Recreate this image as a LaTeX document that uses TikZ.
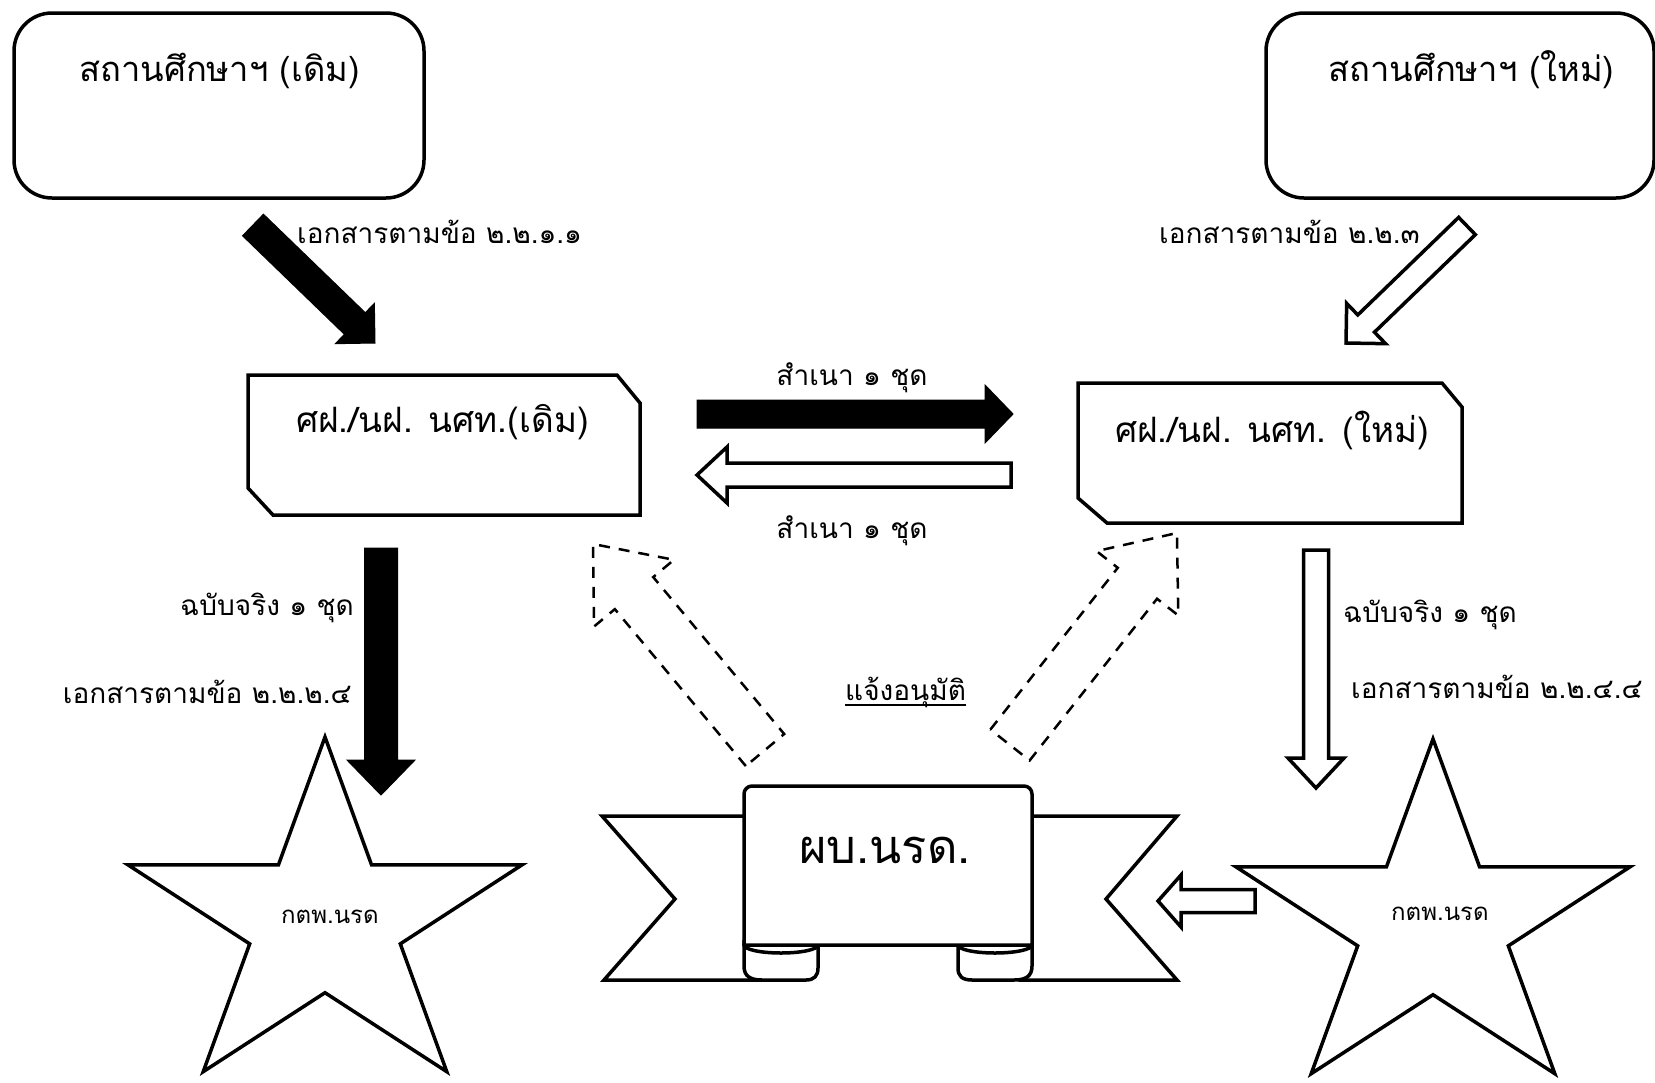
\documentclass[tikz,border=0pt]{standalone}
\usepackage{fontspec}
\newfontfamily\thai[Script=Thai]{Loma}
\usetikzlibrary{calc}
\newcommand\blockarrow[6]{%
  \coordinate (bahb) at ($(#3)!#6pt!(#2)$);
  \path[#1] ($(#2)!#4pt!90:(#3)$) -- ($(bahb)!#4pt!90:(#3)$) -- ($(bahb)!#5pt!90:(#3)$)
    -- (#3) -- ($(bahb)!#5pt!-90:(#3)$) -- ($(bahb)!#4pt!-90:(#3)$) -- ($(#2)!#4pt!-90:(#3)$) -- cycle;
}
\tikzset{
  outline/.style={draw=black, line width=3.5pt, line join=round},
  solidarrow/.style={draw=black, fill=black, line width=1pt, line join=miter},
  hollowarrow/.style={draw=black, fill=white, line width=3.5pt, line join=miter},
  dasharrow/.style={draw=black, line width=2.5pt, dash pattern=on 11pt off 9pt, line join=miter},
  titletext/.style={font=\thai\fontsize{34.5}{40}\selectfont, inner sep=0pt},
  midtext/.style={font=\thai\fontsize{35}{40}\selectfont, inner sep=0pt},
  lbl/.style={font=\thai\fontsize{28}{32}\selectfont, inner sep=0pt},
  bigtext/.style={font=\thai\fontsize{47}{54}\selectfont, inner sep=0pt},
  smalltext/.style={font=\thai\fontsize{24}{28}\selectfont, inner sep=0pt},
}
\begin{document}
\begin{tikzpicture}[x=1pt,y=-1pt]
\useasboundingbox[fill=white] (0,0) rectangle (1655,1082);
% top boxes
\draw[outline, rounded corners=38pt] (14,13) rectangle (424,198);
\node[titletext, anchor=base west] (oldschool) at (79,81) {สถานศึกษาฯ (เดิม)};
\draw[outline, rounded corners=38pt] (1266,13) rectangle (1654,198);
\node[titletext, anchor=base west] (newschool) at (1328,81) {สถานศึกษาฯ (ใหม่)};
% middle boxes
\draw[outline, line join=miter] (248,375) -- (617,375) -- (640,403) -- (640,515) -- (273,515) -- (248,488) -- cycle;
\node[midtext, anchor=base west] (oldunit) at (296,432) {ศฝ./นฝ. นศท.(เดิม)};
\draw[outline, line join=miter] (1078,383) -- (1442,383) -- (1462,407) -- (1462,523) -- (1107,523) -- (1078,498) -- cycle;
\node[midtext, anchor=base west] (newunit) at (1115,442) {ศฝ./นฝ. นศท. (ใหม่)};
% banner
\draw[outline, fill=white, line join=miter] (602,816) -- (760,816) -- (760,980) -- (604,980) -- (675,899) -- cycle;
\draw[outline, fill=white, line join=miter] (1177,816) -- (1020,816) -- (1020,980) -- (1177,980) -- (1106,899) -- cycle;
\draw[outline, fill=white] (744,940) -- (744,966) .. controls (744,976) and (750,980) .. (762,980) -- (806,980) .. controls (814,980) and (818,976) .. (818,968) -- (818,940);
\draw[outline] (781,945) ellipse [x radius=37, y radius=8];
\draw[outline, fill=white] (1032,940) -- (1032,966) .. controls (1032,976) and (1026,980) .. (1014,980) -- (972,980) .. controls (962,980) and (958,976) .. (958,968) -- (958,940);
\draw[outline] (995,945) ellipse [x radius=37, y radius=8];
\draw[outline, fill=white] (744,945) -- (744,794) to[out=90,in=180] (752,786) -- (1024,786) to[out=0,in=90] (1032,794) -- (1032,945) -- cycle;
\node[bigtext, anchor=base west] (hq) at (799,863) {ผบ.นรด.};
% stars
\begin{scope}[shift={(325,922)}, xscale=1.12]
\draw[outline, fill=white, line join=miter] (-90:185) -- (-54:70.7) -- (-18:185) -- (18:70.7) -- (54:185) -- (90:70.7) -- (126:185) -- (162:70.7) -- (198:185) -- (234:70.7) -- cycle;
\end{scope}
\node[smalltext, anchor=base west] (oldstar) at (281,923) {กตพ.นรด};
\begin{scope}[shift={(1433,924)}, xscale=1.12]
\draw[outline, fill=white, line join=miter] (-90:185) -- (-54:70.7) -- (-18:185) -- (18:70.7) -- (54:185) -- (90:70.7) -- (126:185) -- (162:70.7) -- (198:185) -- (234:70.7) -- cycle;
\end{scope}
\node[smalltext, anchor=base west] (newstar) at (1391,920) {กตพ.นรด};
% arrows
\coordinate (a1s) at (253,225); \coordinate (a1e) at (375,343);
\blockarrow{solidarrow}{a1s}{a1e}{15}{28}{28}
\coordinate (a2s) at (1467,226); \coordinate (a2e) at (1346,343);
\blockarrow{hollowarrow}{a2s}{a2e}{12}{28}{28}
\coordinate (a3s) at (697,414); \coordinate (a3e) at (1013,414);
\blockarrow{solidarrow}{a3s}{a3e}{14}{29}{28}
\coordinate (a4s) at (1011,475); \coordinate (a4e) at (697,475);
\blockarrow{hollowarrow}{a4s}{a4e}{12}{28}{30}
\coordinate (a5s) at (381,548); \coordinate (a5e) at (381,795);
\blockarrow{solidarrow}{a5s}{a5e}{16.5}{34}{35}
\coordinate (a6s) at (1316,550); \coordinate (a6e) at (1316,788);
\blockarrow{hollowarrow}{a6s}{a6e}{12.5}{28}{30}
\coordinate (a7s) at (765,750); \coordinate (a7e) at (593,544);
\blockarrow{dasharrow}{a7s}{a7e}{25}{52}{64}
\coordinate (a8s) at (1010,745); \coordinate (a8e) at (1177,533);
\blockarrow{dasharrow}{a8s}{a8e}{25}{52}{64}
\coordinate (a9s) at (1255,901); \coordinate (a9e) at (1158,901);
\blockarrow{hollowarrow}{a9s}{a9e}{11.5}{26}{23}
% labels
\node[lbl, anchor=base west] (l1) at (297,243) {เอกสารตามข้อ ๒.๒.๑.๑};
\node[lbl, anchor=base west] (l2) at (1159,243) {เอกสารตามข้อ ๒.๒.๓};
\node[lbl, anchor=base] (l3) at (852,385) {สำเนา ๑ ชุด};
\node[lbl, anchor=base] (l4) at (852,538) {สำเนา ๑ ชุด};
\node[lbl, anchor=base east] (l5) at (354,615) {ฉบับจริง ๑ ชุด};
\node[lbl, anchor=base east] (l6) at (352,703) {เอกสารตามข้อ ๒.๒.๒.๔};
\node[lbl, anchor=base west] (l7) at (1343,622) {ฉบับจริง ๑ ชุด};
\node[lbl, anchor=base west] (l8) at (1351,698) {เอกสารตามข้อ ๒.๒.๔.๔};
\node[lbl, anchor=base west] (approve) at (845,700) {แจ้งอนุมัติ};
\draw[line width=2pt] ([yshift=-5pt]approve.base west) -- ([yshift=-5pt]approve.base east);
\end{tikzpicture}
\end{document}
